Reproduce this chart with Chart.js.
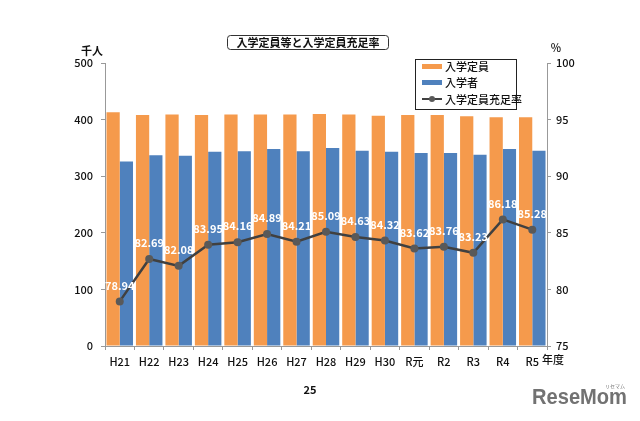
<!DOCTYPE html>
<html><head><meta charset="utf-8">
<script src="https://cdn.jsdelivr.net/npm/chart.js@4"></script>
<style>html,body{margin:0;padding:0;background:#fff;}canvas{display:block;}</style>
</head><body>
<canvas id="c" width="640" height="421"></canvas>
<script>
const categories = ['H21','H22','H23','H24','H25','H26','H27','H28','H29','H30','R元','R2','R3','R4','R5'];
const capacity = [413, 408, 409, 408, 409, 409, 409, 410, 409, 407, 408, 408, 406, 404, 404];
const entrants = [326, 337, 336, 343, 344, 348, 344, 350, 345, 343, 341, 341, 338, 348, 345];
const rate = [78.94, 82.69, 82.08, 83.95, 84.16, 84.89, 84.21, 85.09, 84.63, 84.32, 83.62, 83.76, 83.23, 86.18, 85.28];
const leftTicks = [0, 100, 200, 300, 400, 500];
const rightTicks = [75, 80, 85, 90, 95, 100];
const seriesNames = ['入学定員', '入学者', '入学定員充足率'];
const titleText = '入学定員等と入学定員充足率';

const ORANGE = '#F59A4C', BLUE = '#4F81BD', LINE = '#404040', DOT = '#595959';
const JP = '"Noto Sans CJK JP", "Noto Sans", sans-serif';

const extras = {
  id: 'extras',
  afterDatasetsDraw(chart) {
    const ctx = chart.ctx;
    const meta = chart.getDatasetMeta(2);
    ctx.save();
    ctx.font = 'bold 11px ' + JP;
    ctx.fillStyle = '#ffffff';
    ctx.textAlign = 'center';
    ctx.textBaseline = 'middle';
    meta.data.forEach((pt, i) => {
      ctx.fillText(rate[i].toFixed(2), pt.x, pt.y - 16);
    });
    ctx.restore();
  },
  afterDraw(chart) {
    const ctx = chart.ctx;
    ctx.save();
    ctx.strokeStyle = '#333';
    ctx.lineWidth = 1;
    ctx.beginPath();
    ctx.roundRect(227.5, 35.5, 161, 14, 3);
    ctx.stroke();
    ctx.fillStyle = '#111';
    ctx.font = 'bold 11px ' + JP;
    ctx.textAlign = 'center';
    ctx.textBaseline = 'middle';
    ctx.fillText(titleText, 308, 42.5);
    ctx.fillText('千人', 92, 51);
    ctx.font = '500 11px ' + JP;
    ctx.fillText('%', 556, 48);
    ctx.textAlign = 'left';
    ctx.fillText('年度', 542, 360);
    ctx.textAlign = 'center';
    ctx.font = 'bold 11px ' + JP;
    ctx.fillText('25', 310, 390);
    // legend
    ctx.strokeStyle = '#222';
    ctx.strokeRect(415.5, 59.5, 101, 50);
    ctx.textAlign = 'left';
    ctx.fillStyle = ORANGE;
    ctx.fillRect(422, 64, 20, 5);
    ctx.fillStyle = BLUE;
    ctx.fillRect(422, 80, 20, 5);
    ctx.strokeStyle = LINE;
    ctx.lineWidth = 2;
    ctx.beginPath(); ctx.moveTo(422, 99); ctx.lineTo(442, 99); ctx.stroke();
    ctx.fillStyle = DOT;
    ctx.beginPath(); ctx.arc(432, 99, 3, 0, Math.PI * 2); ctx.fill();
    ctx.fillStyle = '#111';
    ctx.font = '500 11px ' + JP;
    ctx.fillText(seriesNames[0], 445, 67);
    ctx.fillText(seriesNames[1], 445, 83);
    ctx.fillText(seriesNames[2], 445, 99.5);
    // logo
    ctx.fillStyle = '#727272';
    ctx.font = 'bold 22px "Liberation Sans", Arial, sans-serif';
    ctx.textAlign = 'left';
    ctx.fillText('ReseMom', 532, 398, 95);
    ctx.font = '5px ' + JP;
    ctx.fillText('リセマム', 605, 386);
    ctx.restore();
  }
};

const tickFont = { family: JP, size: 11, weight: '500' };

new Chart(document.getElementById('c'), {
  type: 'bar',
  data: {
    labels: categories,
    datasets: [
      { label: seriesNames[0], data: capacity, backgroundColor: ORANGE, yAxisID: 'y', order: 2,
        categoryPercentage: 0.9, barPercentage: 1.0 },
      { label: seriesNames[1], data: entrants, backgroundColor: BLUE, yAxisID: 'y', order: 2,
        categoryPercentage: 0.9, barPercentage: 1.0 },
      { type: 'line', label: seriesNames[2], data: rate, yAxisID: 'y1', order: 0,
        borderColor: LINE, borderWidth: 2.5, pointRadius: 4, pointBackgroundColor: DOT,
        pointBorderColor: DOT, pointBorderWidth: 0, tension: 0 }
    ]
  },
  options: {
    responsive: false,
    animation: false,
    devicePixelRatio: 1,
    layout: { padding: { top: 63, left: 0, right: 0, bottom: 0 } },
    plugins: { legend: { display: false }, tooltip: { enabled: false }, title: { display: false } },
    scales: {
      x: {
        offset: true,
        grid: { drawOnChartArea: false, offset: true, tickLength: 4, color: '#999' },
        border: { color: '#999' },
        ticks: { color: '#111', font: tickFont, padding: 5, maxRotation: 0 },
        afterFit(s) { s.height = 75; }
      },
      y: {
        position: 'left', min: 0, max: 500,
        afterBuildTicks(s) { s.ticks = leftTicks.map(v => ({ value: v })); },
        grid: { drawOnChartArea: false, tickLength: 4, color: '#999' },
        border: { color: '#999' },
        ticks: { color: '#111', font: tickFont, padding: 8 },
        afterFit(s) { s.width = 105; }
      },
      y1: {
        position: 'right', min: 75, max: 100,
        afterBuildTicks(s) { s.ticks = rightTicks.map(v => ({ value: v })); },
        grid: { drawOnChartArea: false, tickLength: 4, color: '#999' },
        border: { color: '#999' },
        ticks: { color: '#111', font: tickFont, padding: 5 },
        afterFit(s) { s.width = 93; }
      }
    }
  },
  plugins: [extras]
});
</script>
</body></html>
